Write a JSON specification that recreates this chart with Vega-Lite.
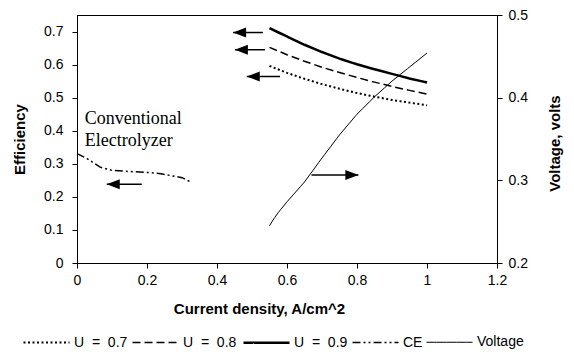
{
  "$schema": "https://vega.github.io/schema/vega-lite/v6.json",
  "width": 420,
  "height": 248,
  "autosize": {"type": "none"},
  "padding": {"left": 77, "top": 15, "right": 77, "bottom": 91},
  "background": "white",
  "datasets": {
    "eff": [
      {"x": 0.55, "y": 0.71, "series": "U = 0.9"},
      {"x": 0.6, "y": 0.685, "series": "U = 0.9"},
      {"x": 0.65, "y": 0.66, "series": "U = 0.9"},
      {"x": 0.7, "y": 0.638, "series": "U = 0.9"},
      {"x": 0.75, "y": 0.618, "series": "U = 0.9"},
      {"x": 0.8, "y": 0.601, "series": "U = 0.9"},
      {"x": 0.85, "y": 0.586, "series": "U = 0.9"},
      {"x": 0.9, "y": 0.572, "series": "U = 0.9"},
      {"x": 0.95, "y": 0.558, "series": "U = 0.9"},
      {"x": 1.0, "y": 0.546, "series": "U = 0.9"},
      {"x": 0.55, "y": 0.652, "series": "U = 0.8"},
      {"x": 0.6, "y": 0.63, "series": "U = 0.8"},
      {"x": 0.65, "y": 0.61, "series": "U = 0.8"},
      {"x": 0.7, "y": 0.592, "series": "U = 0.8"},
      {"x": 0.75, "y": 0.576, "series": "U = 0.8"},
      {"x": 0.8, "y": 0.561, "series": "U = 0.8"},
      {"x": 0.85, "y": 0.547, "series": "U = 0.8"},
      {"x": 0.9, "y": 0.534, "series": "U = 0.8"},
      {"x": 0.95, "y": 0.522, "series": "U = 0.8"},
      {"x": 1.0, "y": 0.511, "series": "U = 0.8"},
      {"x": 0.55, "y": 0.596, "series": "U = 0.7"},
      {"x": 0.6, "y": 0.575, "series": "U = 0.7"},
      {"x": 0.65, "y": 0.557, "series": "U = 0.7"},
      {"x": 0.7, "y": 0.541, "series": "U = 0.7"},
      {"x": 0.75, "y": 0.527, "series": "U = 0.7"},
      {"x": 0.8, "y": 0.514, "series": "U = 0.7"},
      {"x": 0.85, "y": 0.503, "series": "U = 0.7"},
      {"x": 0.9, "y": 0.493, "series": "U = 0.7"},
      {"x": 0.95, "y": 0.485, "series": "U = 0.7"},
      {"x": 1.0, "y": 0.477, "series": "U = 0.7"},
      {"x": 0.0, "y": 0.331, "series": "CE"},
      {"x": 0.03, "y": 0.315, "series": "CE"},
      {"x": 0.066, "y": 0.29, "series": "CE"},
      {"x": 0.1, "y": 0.28, "series": "CE"},
      {"x": 0.16, "y": 0.276, "series": "CE"},
      {"x": 0.2, "y": 0.274, "series": "CE"},
      {"x": 0.24, "y": 0.27, "series": "CE"},
      {"x": 0.274, "y": 0.263, "series": "CE"},
      {"x": 0.3, "y": 0.258, "series": "CE"},
      {"x": 0.325, "y": 0.245, "series": "CE"}
    ],
    "volt": [
      {"x": 0.55, "v": 0.245, "series": "Voltage"},
      {"x": 0.56, "v": 0.252, "series": "Voltage"},
      {"x": 0.575, "v": 0.261, "series": "Voltage"},
      {"x": 0.6, "v": 0.274, "series": "Voltage"},
      {"x": 0.65, "v": 0.298, "series": "Voltage"},
      {"x": 0.7, "v": 0.327, "series": "Voltage"},
      {"x": 0.75, "v": 0.355, "series": "Voltage"},
      {"x": 0.8, "v": 0.38, "series": "Voltage"},
      {"x": 0.85, "v": 0.401, "series": "Voltage"},
      {"x": 0.9, "v": 0.42, "series": "Voltage"},
      {"x": 0.95, "v": 0.437, "series": "Voltage"},
      {"x": 1.0, "v": 0.454, "series": "Voltage"}
    ],
    "arrows": [
      {"tip": 0.446, "tail": 0.531, "y": 0.697, "dir": "left"},
      {"tip": 0.451, "tail": 0.537, "y": 0.645, "dir": "left"},
      {"tip": 0.485, "tail": 0.58, "y": 0.564, "dir": "left"},
      {"tip": 0.085, "tail": 0.185, "y": 0.238, "dir": "left"},
      {"tip": 0.804, "tail": 0.67, "y": 0.266, "dir": "right"}
    ],
    "labels": [
      {"x": 0.022, "y": 0.42, "text": "Conventional\nElectrolyzer"}
    ]
  },
  "encoding": {
    "x": {
      "type": "quantitative",
      "scale": {"domain": [0, 1.2], "nice": false, "zero": false},
      "axis": {
        "values": [0, 0.2, 0.4, 0.6, 0.8, 1, 1.2],
        "format": "~g",
        "title": "Current density, A/cm^2",
        "titleX": 182,
        "titleY": 50,
        "titleAlign": "center",
        "titleBaseline": "alphabetic",
        "labelPadding": 5,
        "labelFlush": false
      }
    }
  },
  "layer": [
    {
      "encoding": {
        "y": {
          "field": "y",
          "type": "quantitative",
          "scale": {"domain": [0, 0.75], "nice": false, "zero": false},
          "axis": {
            "orient": "left",
            "values": [0, 0.1, 0.2, 0.3, 0.4, 0.5, 0.6, 0.7],
            "format": "~g",
            "title": "Efficiency",
            "titleAngle": 270,
            "titleX": -58,
            "titleY": 124,
            "titleAlign": "center",
            "titleBaseline": "middle",
            "labelPadding": 9
          }
        }
      },
      "layer": [
        {
          "data": {"name": "eff"},
          "mark": {"type": "line", "color": "black", "strokeCap": "butt"},
          "encoding": {
            "x": {"field": "x"},
            "strokeDash": {
              "field": "series",
              "type": "nominal",
              "scale": {
                "domain": ["U = 0.7", "U = 0.8", "U = 0.9", "CE", "Voltage"],
                "range": [[2, 2.5], [8, 4], [10, 0], [8, 3, 2, 3, 2, 3], [10, 0]]
              },
              "legend": {"title": null, "labelExpr": "replace(replace(datum.label, ' ', '\u00a0\u00a0'), ' ', '\u00a0\u00a0')"}
            },
            "strokeWidth": {
              "field": "series",
              "type": "nominal",
              "scale": {
                "type": "ordinal",
                "domain": ["U = 0.7", "U = 0.8", "U = 0.9", "CE", "Voltage"],
                "range": [2, 1.5, 2.5, 1.5, 1]
              },
              "legend": {"title": null, "labelExpr": "replace(replace(datum.label, ' ', '\u00a0\u00a0'), ' ', '\u00a0\u00a0')"}
            }
          }
        },
        {
          "data": {"name": "arrows"},
          "mark": {"type": "rule", "color": "black", "strokeWidth": 1.5},
          "encoding": {
            "x": {"field": "tail"},
            "x2": {"field": "tip"}
          }
        },
        {
          "data": {"name": "arrows"},
          "transform": [{"filter": "datum.dir == 'left'"}],
          "mark": {"type": "point", "shape": "M-1,0L1,-0.77L1,0.77Z", "filled": true, "color": "black", "opacity": 1, "size": 169, "xOffset": 6.5},
          "encoding": {
            "x": {"field": "tip"}
          }
        },
        {
          "data": {"name": "arrows"},
          "transform": [{"filter": "datum.dir == 'right'"}],
          "mark": {"type": "point", "shape": "M1,0L-1,-0.77L-1,0.77Z", "filled": true, "color": "black", "opacity": 1, "size": 169, "xOffset": -6.5},
          "encoding": {
            "x": {"field": "tip"}
          }
        },
        {
          "data": {"name": "labels"},
          "mark": {"type": "text", "font": "Liberation Serif", "fontSize": 18, "align": "left", "baseline": "alphabetic", "lineBreak": "\n", "lineHeight": 21.7, "color": "black"},
          "encoding": {
            "x": {"field": "x"},
            "text": {"field": "text"}
          }
        }
      ]
    },
    {
      "data": {"name": "volt"},
      "mark": {"type": "line", "color": "black", "strokeCap": "butt"},
      "encoding": {
        "x": {"field": "x"},
        "y": {
          "field": "v",
          "type": "quantitative",
          "scale": {"domain": [0.2, 0.5], "nice": false, "zero": false},
          "axis": {
            "orient": "right",
            "values": [0.2, 0.3, 0.4, 0.5],
            "format": ".1f",
            "title": "Voltage, volts",
            "titleAngle": 270,
            "titleX": 57,
            "titleY": 128,
            "titleAlign": "center",
            "titleBaseline": "middle",
            "labelPadding": 6
          }
        },
        "strokeDash": {
          "field": "series",
          "type": "nominal",
          "scale": {
            "domain": ["U = 0.7", "U = 0.8", "U = 0.9", "CE", "Voltage"],
            "range": [[2, 2.5], [8, 4], [10, 0], [8, 3, 2, 3, 2, 3], [10, 0]]
          },
          "legend": {"title": null, "labelExpr": "replace(replace(datum.label, ' ', '\u00a0\u00a0'), ' ', '\u00a0\u00a0')"}
        },
        "strokeWidth": {
          "field": "series",
          "type": "nominal",
          "scale": {
            "type": "ordinal",
            "domain": ["U = 0.7", "U = 0.8", "U = 0.9", "CE", "Voltage"],
            "range": [2, 1.5, 2.5, 1.5, 1]
          },
          "legend": {"title": null, "labelExpr": "replace(replace(datum.label, ' ', '\u00a0\u00a0'), ' ', '\u00a0\u00a0')"}
        }
      }
    }
  ],
  "resolve": {"scale": {"y": "independent"}},
  "config": {
    "view": {"stroke": "black", "strokeWidth": 1},
    "axis": {
      "grid": false,
      "domainColor": "black",
      "tickColor": "black",
      "labelColor": "black",
      "titleColor": "black",
      "labelFont": "Liberation Sans",
      "titleFont": "Liberation Sans",
      "labelFontSize": 14,
      "titleFontSize": 15,
      "titleFontWeight": "bold",
      "tickSize": 5,
      "ticks": true,
      "labelOverlap": false
    },
    "legend": {
      "orient": "none",
      "legendX": -55,
      "legendY": 303,
      "direction": "horizontal",
      "columns": 5,
      "symbolType": "stroke",
      "symbolSize": 2116,
      "symbolStrokeColor": "black",
      "labelFont": "Liberation Sans",
      "labelFontSize": 14,
      "labelColor": "black",
      "labelOffset": 3,
      "columnPadding": 1,
      "labelLimit": 300
    }
  }
}
